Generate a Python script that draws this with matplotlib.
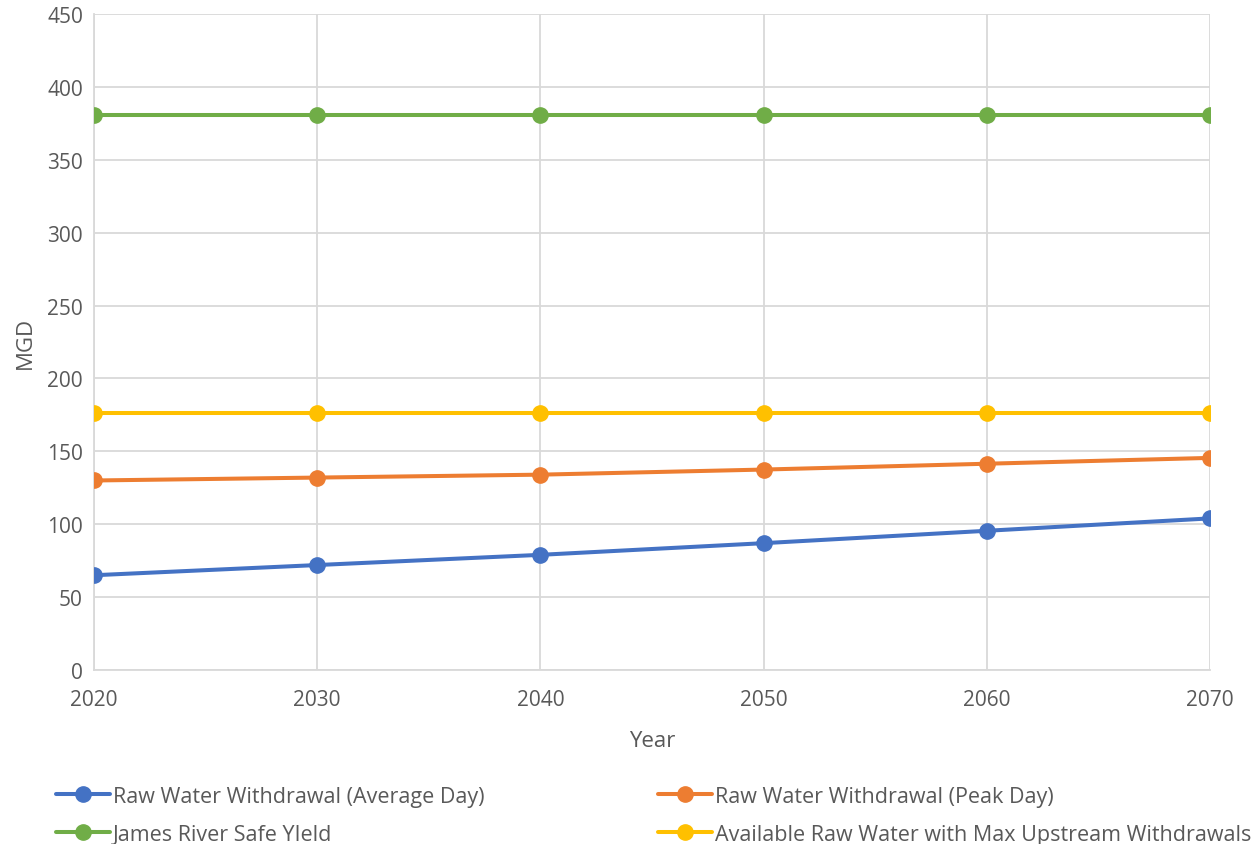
import matplotlib.pyplot as plt
from matplotlib.ticker import MultipleLocator

plt.rcParams['font.family'] = ['Open Sans', 'DejaVu Sans']

# projected withdrawals vs. available supply, MGD
years = [2020, 2030, 2040, 2050, 2060, 2070]
avg_day = [65, 72, 79, 87, 95.5, 104]
peak_day = [130, 132, 134, 137.5, 141.5, 145.5]
safe_yield = [381, 381, 381, 381, 381, 381]
avail_max_up = [176, 176, 176, 176, 176, 176]

labels = ['Raw Water Withdrawal (Average Day)',
          'Raw Water Withdrawal (Peak Day)',
          'James River Safe YIeld',
          'Available Raw Water with Max Upstream Withdrawals']
colors = ['#4472c4', '#ed7d31', '#70ad47', '#ffc000']
txt = '#595959'
grid = '#d9d9d9'

fig = plt.figure(figsize=(12.6, 8.45), dpi=100)
ax = fig.add_axes([94 / 1260, 174 / 845, 1116 / 1260, 656 / 845])

lines = []
for ys, c, lab in zip([avg_day, peak_day, safe_yield, avail_max_up], colors, labels):
    ln, = ax.plot(years, ys, color=c, lw=2.9, marker='o', ms=11, label=lab,
                  solid_capstyle='round', zorder=3)
    lines.append(ln)

ax.set_xlim(2020, 2070)
ax.set_ylim(0, 450)
ax.xaxis.set_major_locator(MultipleLocator(10))
ax.yaxis.set_major_locator(MultipleLocator(50))
ax.grid(True, color=grid, lw=1.3, zorder=0)
for s in ['top', 'right']:
    ax.spines[s].set_visible(False)
for s in ['left', 'bottom']:
    ax.spines[s].set_color(grid)
    ax.spines[s].set_linewidth(1.3)
ax.tick_params(length=0, labelsize=15, colors=txt, pad=8)
ax.tick_params(axis='x', pad=14)
ax.set_xlabel('Year', fontsize=16, color=txt, labelpad=14)
ax.set_ylabel('MGD', fontsize=16, color=txt, labelpad=8)

legend_kw = dict(frameon=False, fontsize=15.5, labelcolor=txt, handlelength=2.5,
                 handletextpad=0.15, labelspacing=0.78, borderpad=0, borderaxespad=0)
fig.legend([lines[0], lines[2]], [labels[0], labels[2]], loc='upper left',
           bbox_to_anchor=(56 / 1260, 1 - 787 / 845), **legend_kw)
fig.legend([lines[1], lines[3]], [labels[1], labels[3]], loc='upper left',
           bbox_to_anchor=(658 / 1260, 1 - 787 / 845), **legend_kw)

fig.savefig('out.png', dpi=100)
